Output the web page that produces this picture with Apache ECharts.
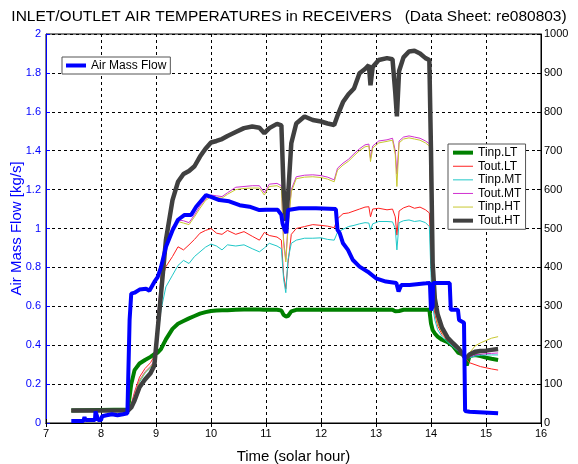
<!DOCTYPE html>
<html>
<head>
<meta charset="utf-8">
<script src="https://cdn.jsdelivr.net/npm/echarts@6/dist/echarts.min.js"></script>
<style>
  html, body { margin: 0; padding: 0; background: #fff; }
  #chart { width: 578px; height: 464px; }
</style>
</head>
<body>
<div id="chart"></div>
<script>
// time axis shared by the temperature traces (solar hour)
const hours = [7.46, 8.49, 8.55, 8.61, 8.7, 8.8, 8.9, 8.97, 9.03, 9.09, 9.18, 9.3, 9.4, 9.5, 9.6, 9.7, 9.8, 9.9,
  10.0, 10.1, 10.2, 10.3, 10.45, 10.6, 10.75, 10.88, 10.97, 11.06, 11.2, 11.28, 11.32, 11.36, 11.4, 11.46, 11.55,
  11.7, 11.85, 12.0, 12.12, 12.24, 12.3, 12.4, 12.5, 12.6, 12.7, 12.8, 12.87, 12.9, 12.94, 13.05, 13.2, 13.3,
  13.35, 13.38, 13.42, 13.5, 13.6, 13.7, 13.8, 13.9, 13.97, 14.0, 14.03, 14.07, 14.12, 14.2, 14.3, 14.4, 14.5,
  14.6, 14.65, 14.7, 14.8, 14.9, 15.0, 15.1, 15.22]

const tinpLT = [32, 35, 100, 136, 153, 162, 170, 177, 181, 190, 215, 242, 255, 262, 269, 275, 281, 285,
  288, 289, 290, 290, 291, 292, 292, 292, 291, 291, 291, 289, 278, 274, 275, 287, 291,
  291, 291, 291, 291, 291, 291, 291, 291, 291, 291, 291, 291, 291, 291, 291, 291, 291,
  287, 285, 288, 291, 291, 291, 291, 291, 291, 256, 239, 230, 222, 214, 208, 198, 180,
  175, 148, 172, 175, 172, 168, 165, 162]

const toutLT = [32, 35, 48, 80, 118, 140, 155, 172, 270, 360, 402, 428, 453, 445, 458, 472, 488, 495,
  500, 488, 485, 495, 485, 492, 480, 470, 490, 482, 478, 470, 380, 345, 410, 485, 500,
  505, 510, 508, 506, 502, 525, 538, 540, 545, 550, 555, 556, 530, 550, 552, 548, 550,
  530, 483, 545, 553, 558, 552, 555, 548, 540, 420, 320, 280, 250, 228, 212, 198, 185,
  170, 162, 155, 150, 145, 142, 139, 136]

const tinpMT = [32, 35, 42, 70, 105, 128, 142, 155, 220, 290, 350, 380, 405, 418, 410, 428, 440, 452,
  460, 455, 445, 458, 455, 458, 448, 440, 450, 462, 455, 448, 370, 335, 420, 462, 470,
  475, 475, 476, 472, 470, 490, 498, 505, 508, 512, 515, 514, 496, 512, 518, 518, 517,
  500, 445, 515, 520, 522, 518, 520, 515, 505, 380, 300, 265, 240, 222, 208, 196, 184,
  172, 165, 168, 172, 174, 175, 175, 175]

const toutMT = [32, 35, 45, 75, 110, 132, 146, 160, 270, 380, 462, 505, 522, 520, 515, 535, 558, 576,
  586, 584, 582, 592, 606, 608, 610, 610, 592, 614, 616, 610, 470, 420, 510, 600, 633,
  637, 638, 636, 632, 625, 655, 668, 678, 692, 705, 715, 717, 680, 712, 725, 728, 732,
  700, 640, 725, 735, 738, 735, 732, 725, 718, 540, 380, 300, 258, 235, 215, 200, 188,
  172, 166, 170, 175, 177, 178, 179, 180]

const tinpHT = [32, 35, 44, 72, 108, 130, 144, 158, 262, 372, 455, 498, 518, 514, 510, 530, 552, 572,
  582, 580, 578, 588, 600, 603, 604, 604, 586, 608, 610, 604, 460, 414, 500, 594, 628,
  632, 633, 631, 627, 620, 650, 663, 673, 687, 700, 710, 712, 672, 707, 720, 724, 727,
  690, 608, 720, 730, 733, 730, 727, 720, 712, 535, 375, 298, 256, 233, 214, 200, 188,
  172, 168, 180, 198, 206, 212, 218, 222]

const toutHT = [32, 32, 40, 58, 92, 112, 128, 148, 240, 330, 470, 573, 620, 640, 648, 660, 685, 705,
  721, 725, 730, 738, 748, 758, 762, 759, 745, 758, 769, 765, 600, 520, 582, 719, 770,
  788, 779, 775, 770, 766, 790, 825, 845, 860, 899, 910, 920, 868, 915, 933, 938, 935,
  850, 788, 905, 940, 955, 957, 950, 938, 933, 700, 411, 320, 280, 245, 220, 205, 192,
  172, 168, 176, 183, 185, 186, 188, 190]

// air mass flow has its own (step-like) sampling
const flowHours = [7.46, 7.68, 7.7, 7.72, 7.89, 7.9, 7.93, 7.95, 8.0, 8.02, 8.1, 8.2, 8.3, 8.4, 8.48, 8.52, 8.55,
  8.61, 8.7, 8.82, 8.88, 8.97, 9.03, 9.09, 9.18, 9.3, 9.4, 9.52, 9.64, 9.73, 9.91, 10.0, 10.15, 10.33,
  10.52, 10.7, 10.88, 11.0, 11.21, 11.28, 11.3, 11.34, 11.37, 11.4, 11.6, 11.91, 12.27, 12.3, 12.34,
  12.4, 12.49, 12.58, 12.7, 12.85, 13.0, 13.18, 13.37, 13.41, 13.46, 13.61, 13.91, 13.98, 14.0, 14.03,
  14.04, 14.34, 14.36, 14.49, 14.51, 14.6, 14.62, 14.7, 15.22]
const flowValues = [0.01, 0.01, 0.03, 0.015, 0.015, 0.06, 0.05, 0.015, 0.015, 0.035, 0.04, 0.045, 0.04, 0.045, 0.05, 0.53, 0.665,
  0.67, 0.686, 0.69, 0.68, 0.725, 0.75, 0.8, 0.905, 0.99, 1.045, 1.07, 1.07, 1.112, 1.172, 1.163, 1.146, 1.14,
  1.12, 1.112, 1.095, 1.097, 1.097, 1.07, 1.027, 0.993, 0.976, 1.095, 1.104, 1.104, 1.1, 0.993, 0.976,
  0.924, 0.89, 0.838, 0.804, 0.778, 0.744, 0.727, 0.72, 0.676, 0.71, 0.71, 0.718, 0.72, 0.58, 0.6,
  0.72, 0.72, 0.582, 0.582, 0.53, 0.515, 0.062, 0.058, 0.05]

const zip = (xs, ys) => xs.map((x, i) => [x, ys[i]])

const font = 'Liberation Sans'
const thickIcon = 'path://M0,0H20V4H0Z'
const thinIcon = 'path://M0,0H20V1H0Z'

const chart = echarts.init(document.getElementById('chart'))

function tempSeries(name, values, color, width) {
  return {
    name: name,
    type: 'line',
    yAxisIndex: 1,
    showSymbol: false,
    symbol: 'none',
    data: zip(hours, values),
    lineStyle: { color: color, width: width },
    itemStyle: { color: color },
    emphasis: { disabled: true }
  }
}

chart.setOption({
  animation: false,
  backgroundColor: '#fff',
  textStyle: { fontFamily: font },
  title: {
    text: 'INLET/OUTLET AIR TEMPERATURES in RECEIVERS   (Data Sheet: re080803)',
    left: 'center',
    top: 9,
    padding: 0,
    textStyle: { fontSize: 15.5, fontWeight: 'normal', color: '#000', fontFamily: font }
  },
  grid: {
    left: 46,
    right: 37,
    top: 34,
    bottom: 41,
    outerBoundsMode: 'none',
    containLabel: false,
    show: true,
    borderColor: '#000',
    borderWidth: 1,
    backgroundColor: '#fff'
  },
  legend: [{
    data: [{ name: 'Air Mass Flow', icon: thickIcon }],
    left: 62,
    top: 57,
    orient: 'vertical',
    selectedMode: false,
    itemWidth: 20,
    itemHeight: 8,
    padding: [2, 4, 2, 4],
    borderColor: '#555',
    borderWidth: 1,
    backgroundColor: '#fff',
    textStyle: { fontSize: 12, color: '#000', fontFamily: font, lineHeight: 13 }
  }, {
    data: [
      { name: 'Tinp.LT', icon: thickIcon },
      { name: 'Tout.LT', icon: thinIcon },
      { name: 'Tinp.MT', icon: thinIcon },
      { name: 'Tout.MT', icon: thinIcon },
      { name: 'Tinp.HT', icon: thinIcon },
      { name: 'Tout.HT', icon: thickIcon }
    ],
    left: 448,
    top: 144,
    orient: 'vertical',
    selectedMode: false,
    itemWidth: 20,
    itemHeight: 8,
    itemGap: 0.3,
    padding: [2, 4, 2, 5],
    borderColor: '#555',
    borderWidth: 1,
    backgroundColor: '#fff',
    textStyle: { fontSize: 12, color: '#000', fontFamily: font, lineHeight: 13.3 }
  }],
  xAxis: [{
    type: 'value',
    min: 7,
    max: 16,
    interval: 1,
    name: 'Time (solar hour)',
    nameLocation: 'middle',
    nameGap: 26,
    nameTextStyle: { fontSize: 15, color: '#000', fontFamily: font },
    axisLine: { lineStyle: { color: '#000' } },
    axisTick: { inside: true, length: 4, lineStyle: { color: '#000' } },
    axisLabel: { fontSize: 11, color: '#000', margin: 5 },
    splitLine: { show: true, lineStyle: { color: '#000', type: [3, 3], width: 1 } }
  }, {
    type: 'value',
    position: 'top',
    min: 7,
    max: 16,
    interval: 1,
    axisLine: { lineStyle: { color: '#000' } },
    axisTick: { inside: true, length: 4, lineStyle: { color: '#000' } },
    axisLabel: { show: false },
    splitLine: { show: false }
  }],
  yAxis: [{
    type: 'value',
    min: 0,
    max: 2,
    interval: 0.2,
    name: 'Air Mass Flow [kg/s]',
    nameLocation: 'middle',
    nameGap: 22,
    nameMoveOverlap: false,
    nameTextStyle: { fontSize: 15, color: '#0000ff', fontFamily: font },
    axisLine: { show: true, lineStyle: { color: '#0000ff' } },
    axisTick: { show: true, inside: true, length: 4, lineStyle: { color: '#0000ff' } },
    axisLabel: { fontSize: 11, color: '#0000ff', margin: 5 },
    splitLine: { show: true, lineStyle: { color: '#000', type: [3, 3], width: 1 } }
  }, {
    type: 'value',
    min: 0,
    max: 1000,
    interval: 100,
    position: 'right',
    axisLine: { show: true, lineStyle: { color: '#000' } },
    axisTick: { show: true, inside: true, length: 4, lineStyle: { color: '#000' } },
    axisLabel: { fontSize: 11, color: '#000', margin: 3, formatter: v => String(v) },
    splitLine: { show: false }
  }],
  series: [
    tempSeries('Tinp.LT', tinpLT, '#008000', 4),
    tempSeries('Tout.LT', toutLT, '#ff2020', 1),
    tempSeries('Tinp.MT', tinpMT, '#20c8c8', 1),
    tempSeries('Tout.MT', toutMT, '#d030d0', 1),
    tempSeries('Tinp.HT', tinpHT, '#c8c830', 1),
    tempSeries('Tout.HT', toutHT, '#404040', 4.5),
    {
      name: 'Air Mass Flow',
      type: 'line',
      yAxisIndex: 0,
      showSymbol: false,
      symbol: 'none',
      data: zip(flowHours, flowValues),
      lineStyle: { color: '#0000ff', width: 4 },
      itemStyle: { color: '#0000ff' },
      emphasis: { disabled: true },
      z: 3
    }
  ]
})
</script>
</body>
</html>
